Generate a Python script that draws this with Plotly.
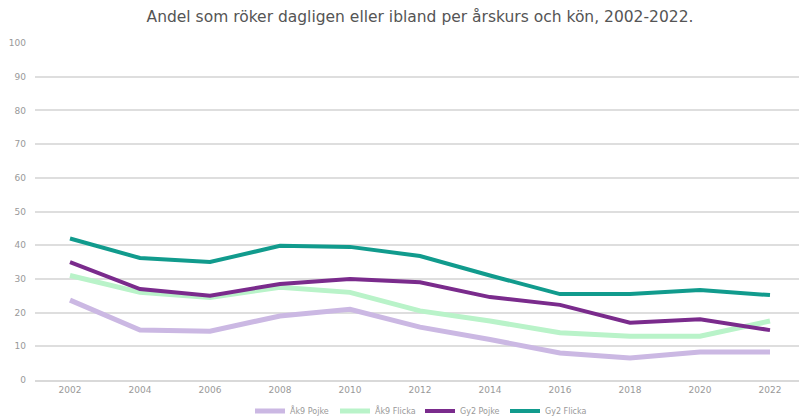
import plotly.graph_objects as go

years = ["2002", "2004", "2006", "2008", "2010", "2012", "2014", "2016", "2018", "2020", "2022"]
ak9_pojke = [23.7, 14.8, 14.5, 19.0, 21.0, 15.7, 12.0, 8.0, 6.5, 8.3, 8.3]
ak9_flicka = [31.0, 26.0, 24.5, 27.5, 26.0, 20.5, 17.5, 14.0, 13.0, 13.0, 17.5]
gy2_pojke = [35.0, 27.0, 25.0, 28.5, 30.0, 29.0, 24.6, 22.3, 17.0, 18.0, 14.8]
gy2_flicka = [42.0, 36.2, 35.0, 39.8, 39.5, 36.8, 31.0, 25.5, 25.5, 26.7, 25.2]

series = [
    ("Åk9 Pojke", ak9_pojke, "#cbb8e3", 5),
    ("Åk9 Flicka", ak9_flicka, "#b9f3c9", 5),
    ("Gy2 Pojke", gy2_pojke, "#7a2b8c", 4),
    ("Gy2 Flicka", gy2_flicka, "#119b8d", 4),
]

fig = go.Figure()
for name, vals, color, w in series:
    fig.add_trace(go.Scatter(x=years, y=vals, name=name, mode="lines",
                             line=dict(color=color, width=w)))

H = 411
fig.update_layout(
    width=799, height=H,
    margin=dict(l=27, r=2, t=35, b=39, autoexpand=False),
    paper_bgcolor="white", plot_bgcolor="white",
    font=dict(family="DejaVu Sans, sans-serif", color="#777777", size=8),
    title=dict(text="Andel som röker dagligen eller ibland per årskurs och kön, 2002-2022.",
               x=0.5, xanchor="center", xref="paper", y=1 - 9 / H, yref="container",
               yanchor="middle", font=dict(size=15.5, color="#555555")),
    xaxis=dict(type="category", range=[-0.5, 10.5], showgrid=False, showline=True,
               linecolor="#d9d9d9", linewidth=1.5, ticks="",
               tickfont=dict(size=9, color="#999999")),
    yaxis=dict(range=[0, 100], dtick=10, showgrid=True, gridcolor="#dedede", gridwidth=1.5,
               zeroline=False, ticks="", ticklabelstandoff=8,
               tickfont=dict(size=9, color="#999999")),
    legend=dict(orientation="h", x=0.5, xanchor="center", xref="paper",
                y=8 / H, yref="container", yanchor="middle",
                font=dict(size=8, color="#999999"), itemwidth=30,
                entrywidth=40, entrywidthmode="pixels"),
)

fig.write_html("out.html")
